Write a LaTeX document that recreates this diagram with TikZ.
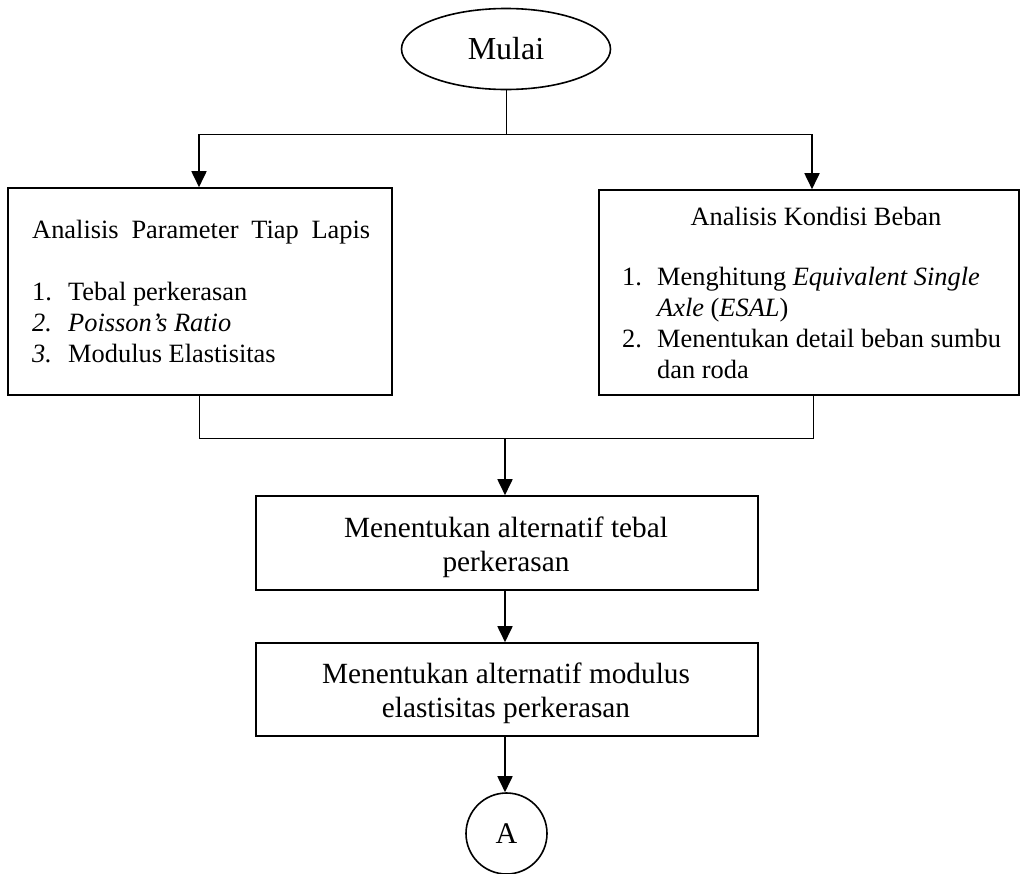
\documentclass[tikz,border=0pt]{standalone}
\usepackage{fontspec}
\setmainfont{Liberation Serif}
\usetikzlibrary{shapes.geometric,arrows.meta}
\begin{document}
\begin{tikzpicture}[x=1pt,y=-1pt,
  box/.style={draw, line width=1.6pt, rectangle, inner sep=0},
  thinline/.style={line width=0.9pt},
  arr/.style={line width=1.8pt, -{Triangle[length=16pt,width=15pt]}},
  txt/.style={inner sep=0, font=\fontsize{26.4}{33}\selectfont},
  midtxt/.style={inner sep=0, align=center, font=\fontsize{29.3}{34}\selectfont}]
\useasboundingbox (0,0) rectangle (1025,873);

% start
\node[draw, ellipse, line width=1.6pt, minimum width=209pt, minimum height=81pt,
      inner sep=0, font=\fontsize{32}{36}\selectfont] (mulai) at (506,49) {Mulai};

% boxes
\node[box, minimum width=384pt, minimum height=207pt] (left) at (200,291.5) {};
\node[box, minimum width=420pt, minimum height=205pt] (right) at (809,292.5) {};
\node[box, minimum width=502pt, minimum height=94pt] (tebal) at (507,543) {};
\node[box, minimum width=502pt, minimum height=93pt] (modulus) at (507,689.5) {};
\node[draw, circle, line width=1.6pt, minimum size=81pt, inner sep=0,
      font=\fontsize{30}{34}\selectfont] (A) at (506.5,833.5) {A};

% left box text
\node[txt, anchor=base west] (lh) at (32,238) {\hbox to 338pt{Analisis\hfill Parameter\hfill Tiap\hfill Lapis}};
\node[txt, anchor=base west] (l1) at (32,300) {\makebox[36pt][l]{1.}Tebal perkerasan};
\node[txt, anchor=base west] (l2) at (32,331) {\itshape\makebox[36pt][l]{2.}Poisson’s Ratio};
\node[txt, anchor=base west] (l3) at (32,362) {\makebox[36pt][l]{\itshape 3.}Modulus Elastisitas};

% right box text
\node[txt, anchor=base] (rh) at (816,225) {Analisis Kondisi Beban};
\node[txt, anchor=base west] (r1) at (622,285) {\makebox[35pt][l]{1.}Menghitung \textit{Equivalent Single}};
\node[txt, anchor=base west] (r1b) at (657,316) {\textit{Axle} (\textit{ESAL})};
\node[txt, anchor=base west] (r2) at (622,347) {\makebox[35pt][l]{2.}Menentukan detail beban sumbu};
\node[txt, anchor=base west] (r2b) at (657,378) {dan roda};

% middle box texts
\node[midtxt, anchor=north] (tt) at (506,517) {Menentukan alternatif tebal\\perkerasan};
\node[midtxt, anchor=north] (mt) at (506,663) {Menentukan alternatif modulus\\elastisitas perkerasan};

% connectors
\coordinate (jt) at (506,134);
\coordinate (jl) at (199,134);
\coordinate (jr) at (812,134);
\coordinate (bl) at (199,438);
\coordinate (br) at (813,438);
\coordinate (bm) at (505,438);

\draw[thinline] (mulai.south) -- (jt);
\draw[thinline] (jl) -- (jr);
\draw[arr] (jl) -- (jl |- left.north);
\draw[arr] (jr) -- (jr |- right.north);

\draw[thinline] (bl |- left.south) -- (bl) -- (br) -- (br |- right.south);
\draw[arr] (bm) -- (bm |- tebal.north);
\draw[arr] (bm |- tebal.south) -- (bm |- modulus.north);
\draw[arr] (bm |- modulus.south) -- (A.north -| bm);
\end{tikzpicture}
\end{document}
